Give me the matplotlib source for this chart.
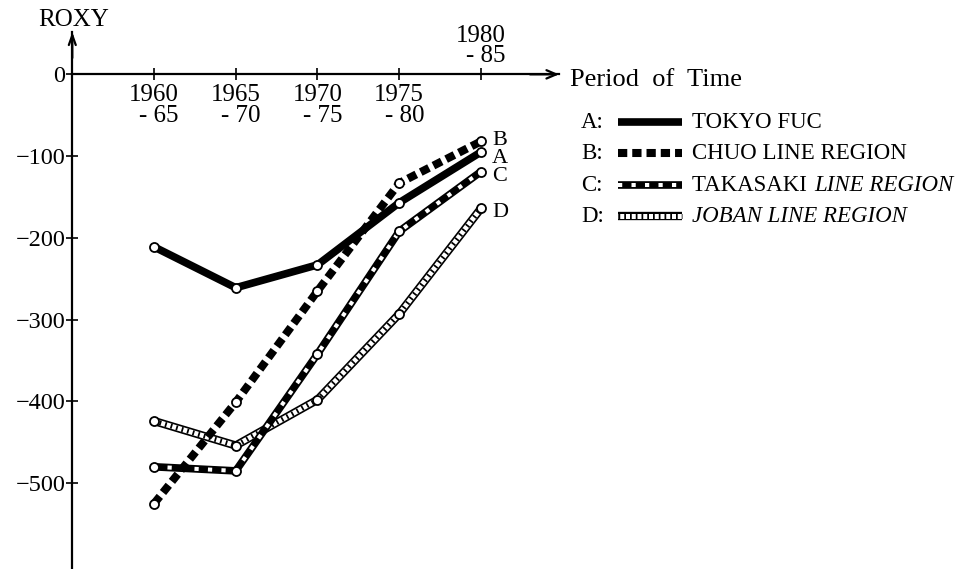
import numpy as np
import matplotlib
matplotlib.use("Agg")
import matplotlib.pyplot as plt

plt.rcParams['font.family'] = ['Liberation Serif', 'DejaVu Serif']

# ---- data ----
periods = ["1960\n- 65", "1965\n- 70", "1970\n- 75", "1975\n- 80", "1980\n- 85"]
tokyo_fuc = [-211, -261, -233, -157, -95]      # A
chuo_line = [-525, -401, -265, -133, -82]      # B
takasaki_line = [-480, -485, -342, -192, -119]  # C
joban_line = [-424, -454, -398, -293, -164]     # D
series_letters = ["A", "B", "C", "D"]
series_names = ["TOKYO FUC", "CHUO LINE REGION", "TAKASAKI LINE REGION", "JOBAN LINE REGION"]
yticks = [0, -100, -200, -300, -400, -500]
ytick_labels = ["0", "−100", "−200", "−300", "−400", "−500"]

W, H = 978, 569
fig = plt.figure(figsize=(W / 100, H / 100), dpi=100)
ax = fig.add_axes([72.3 / W, 0, (559 - 72.3) / W, 537 / H])
ax.set_xlim(0, 5.955)
ax.set_ylim(-605, 51.8)
ax.patch.set_alpha(0)

x = np.arange(1, len(periods) + 1)

LW = 5.5


def draw_style(a, xs, ys, style, z=3):
    if style == "A":
        a.plot(xs, ys, color="black", lw=LW, solid_capstyle="butt", solid_joinstyle="round", zorder=z)
    elif style == "B":
        l, = a.plot(xs, ys, color="black", lw=5.8, dash_capstyle="butt", dash_joinstyle="round", zorder=z)
        l.set_dashes((1.15, 0.62))
    elif style == "C":
        a.plot(xs, ys, color="black", lw=LW, solid_capstyle="butt", solid_joinstyle="round", zorder=z)
        l, = a.plot(xs, ys, color="white", lw=2.9, dash_capstyle="butt", zorder=z + 0.1)
        l.set_dashes((1.05, 2.3))
    elif style == "D":
        a.plot(xs, ys, color="black", lw=6.0, solid_capstyle="butt", solid_joinstyle="round", zorder=z)
        a.plot(xs, ys, color="white", lw=3.6, solid_capstyle="butt", solid_joinstyle="round", zorder=z + 0.1)
        l, = a.plot(xs, ys, color="black", lw=3.6, dash_capstyle="butt", zorder=z + 0.2)
        l.set_dashes((0.35, 0.8))


series = [tokyo_fuc, chuo_line, takasaki_line, joban_line]
zs = [3.6, 3.4, 3.2, 3.0]
for s, letter, z in zip(series, series_letters, zs):
    draw_style(ax, x, s, letter, z)
for s in series:
    ax.plot(x, s, linestyle="none", marker="o", ms=6.5, mfc="white", mec="black", mew=1.3, zorder=5)

# end labels
label_offsets = {"A": (8, -4.5), "B": (8, 1), "C": (8, -3.5), "D": (8, -3)}
for s, letter in zip(series, series_letters):
    ax.annotate(letter, xy=(x[-1], s[-1]), xytext=label_offsets[letter], textcoords="offset points",
                ha="left", va="center", fontsize=16, zorder=6)

# axes
for sp in ["top", "right"]:
    ax.spines[sp].set_visible(False)
ax.spines["bottom"].set_position(("data", 0))
ax.spines["left"].set_linewidth(1.6)
ax.spines["bottom"].set_linewidth(1.6)
ax.set_xticks(x)
ax.set_xticklabels([])
ax.set_yticks(yticks)
ax.set_yticklabels(ytick_labels, fontsize=17.5)
ax.tick_params(axis="both", direction="inout", length=8, width=1.2, pad=1)
ax.annotate("", xy=(5.955, 0), xytext=(5.6, 0),
            arrowprops=dict(arrowstyle="->,head_length=0.7,head_width=0.3", lw=1.6, shrinkA=0, shrinkB=0),
            annotation_clip=False)
ax.annotate("", xy=(0, 51.8), xytext=(0, 20),
            arrowprops=dict(arrowstyle="->,head_length=0.7,head_width=0.25", lw=1.6, shrinkA=0, shrinkB=0),
            annotation_clip=False)

# x tick labels
for xi, lab in zip(x, periods):
    if xi == x[-1]:
        ax.annotate(lab, xy=(xi, 0), xytext=(0, 5), textcoords="offset points",
                    ha="center", va="bottom", multialignment="right", fontsize=18, linespacing=0.92)
    else:
        ax.annotate(lab, xy=(xi, 0), xytext=(0, -7), textcoords="offset points",
                    ha="center", va="top", multialignment="right", fontsize=18, linespacing=0.92)

# overlay in pixel coords for titles and legend
lax = fig.add_axes([0, 0, 1, 1])
lax.set_xlim(0, W)
lax.set_ylim(H, 0)
lax.axis("off")
lax.patch.set_alpha(0)
lax.text(74, 20, "ROXY", ha="center", va="center", fontsize=18)
lax.text(570, 80, "Period  of  Time", ha="left", va="center", fontsize=19)
rows_y = [122, 153, 185, 216]
fig.canvas.draw()
renderer = fig.canvas.get_renderer()
for ry, letter, name in zip(rows_y, series_letters, series_names):
    lax.text(581, ry, letter + ":", ha="left", va="center", fontsize=16.5)
    draw_style(lax, [618, 682], [ry, ry], letter)
    if letter == "C":
        first, rest = name.split(" ", 1)
        t = lax.text(692, ry, first + " ", ha="left", va="center", fontsize=16.5)
        bb = t.get_window_extent(renderer=renderer)
        lax.text(bb.x1 + 2, ry, rest, ha="left", va="center", fontsize=16.5, style="italic",
                 transform=matplotlib.transforms.blended_transform_factory(
                     matplotlib.transforms.IdentityTransform(), lax.transData))
    elif letter == "D":
        lax.text(692, ry, name, ha="left", va="center", fontsize=16.5, style="italic")
    else:
        lax.text(692, ry, name, ha="left", va="center", fontsize=16.5)

fig.savefig("out.png", dpi=100)
